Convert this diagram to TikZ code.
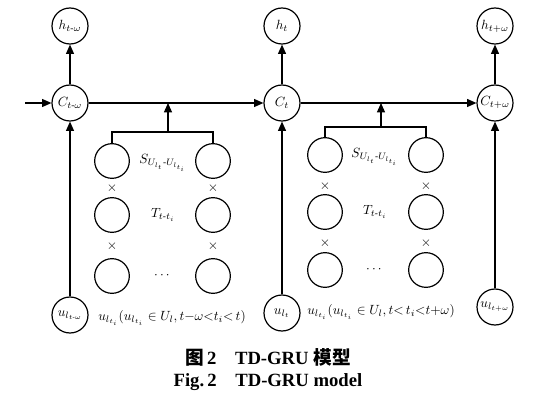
\documentclass[tikz,border=0pt]{standalone}
\usepackage{amsmath,amssymb}
\usepackage{fontspec}
\setmainfont{Liberation Serif}
\newfontfamily\cjk{Noto Sans CJK SC}
\usetikzlibrary{arrows.meta}

\begin{document}
\begin{tikzpicture}[x=0.75pt,y=0.75pt,yscale=-1,xscale=1,
  cell/.style={circle,draw,line width=0.9pt,minimum size=27pt,inner sep=0pt},
  unit/.style={circle,draw,line width=0.9pt,minimum size=26pt,inner sep=0pt},
  flow/.style={line width=0.9pt,-{Triangle[length=7pt,width=6pt]}},
  wire/.style={line width=0.9pt}]
\useasboundingbox (0,0) rectangle (536,403);

% time steps
\node[cell] (Cm) at (70,103) {$C_{t\text{-}\omega}$};
\node[cell] (C0) at (282,103) {$C_{t}$};
\node[cell] (Cp) at (495,103) {$C_{t+\omega}$};
\node[cell] (hm) at (70,26) {$h_{t\text{-}\omega}$};
\node[cell] (h0) at (282,26) {$h_{t}$};
\node[cell] (hp) at (495,26) {$h_{t+\omega}$};
\node[cell] (um) at (70,315) {$u_{l_{t\text{-}\omega}}$};
\node[cell] (u0) at (282,313) {$u_{l_{t}}$};
\node[cell] (up) at (495,307) {$u_{l_{t+\omega}}$};
\coordinate (in) at (25,103);

\draw[flow] (in) -- (Cm);
\draw[flow] (Cm) -- (C0);
\draw[flow] (C0) -- (Cp);
\draw[flow] (Cm) -- (hm);
\draw[flow] (C0) -- (h0);
\draw[flow] (Cp) -- (hp);
\draw[flow] (um) -- (Cm);
\draw[flow] (u0) -- (C0);
\draw[flow] (up) -- (Cp);

% first group
\node[unit] (a1) at (112,161) {};
\node[unit] (a2) at (112,215) {};
\node[unit] (a3) at (112,276) {};
\node[unit] (b1) at (213,161) {};
\node[unit] (b2) at (213,215) {};
\node[unit] (b3) at (213,276) {};
\node (ax1) at (112,188) {$\times$};
\node (ax2) at (112,246) {$\times$};
\node (bx1) at (213,188) {$\times$};
\node (bx2) at (213,246) {$\times$};
\node (sa) at (163,163) {$S_{U_{l_t}\text{-}U_{l_{t_i}}}$};
\node (ta) at (163,215) {$T_{t\text{-}t_i}$};
\node (da) at (163,276) {$\cdots$};
\node (la) at (172,318) {$u_{l_{t_i}}(u_{l_{t_i}}\in U_l,t{-}\omega{<}t_i{<}\,t)$};
\coordinate (ja) at (168,132);
\draw[wire] (a1.north) |- (ja) -| (b1.north);
\draw[flow] (ja) -- (ja |- Cm);

% second group
\node[unit] (c1) at (325,155) {};
\node[unit] (c2) at (325,212) {};
\node[unit] (c3) at (325,270) {};
\node[unit] (d1) at (426,155) {};
\node[unit] (d2) at (426,212) {};
\node[unit] (d3) at (426,270) {};
\node (cx1) at (325,186) {$\times$};
\node (cx2) at (325,243) {$\times$};
\node (dx1) at (426,186) {$\times$};
\node (dx2) at (426,243) {$\times$};
\node (sb) at (375,157) {$S_{U_{l_t}\text{-}U_{l_{t_i}}}$};
\node (tb) at (375,212) {$T_{t\text{-}t_i}$};
\node (db) at (375,270) {$\cdots$};
\node (lb) at (381,312) {$u_{l_{t_i}}(u_{l_{t_i}}\in U_l,t{<}\,t_i{<}t{+}\omega)$};
\coordinate (jb) at (381,127);
\draw[wire] (c1.north) |- (jb) -| (d1.north);
\draw[flow] (jb) -- (jb |- C0);

% caption
\node[font=\bfseries\fontsize{14}{16}\selectfont] (cap1) at (268,357) {{\cjk\bfseries 图}\,2\quad TD-GRU {\cjk\bfseries 模型}};
\node[font=\bfseries\fontsize{14}{16}\selectfont] (cap2) at (268,382) {Fig.\,2\quad TD-GRU model};

\end{tikzpicture}
\end{document}
